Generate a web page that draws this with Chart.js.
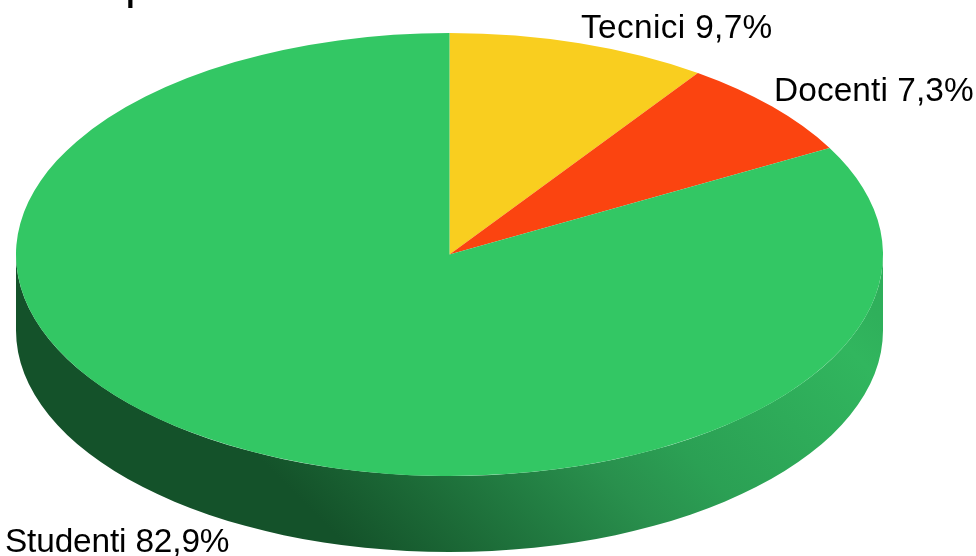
<!DOCTYPE html>
<html>
<head>
<meta charset="utf-8">
<style>
  html, body { margin: 0; padding: 0; background: #fff; overflow: hidden; }
  canvas { display: block; }
</style>
<script src="https://cdn.jsdelivr.net/npm/chart.js@4"></script>
</head>
<body>
<canvas id="myChart" width="976" height="556"></canvas>
<script>
const categories = ['Tecnici', 'Docenti', 'Studenti'];
const values = [9.7, 7.3, 82.9];
const sliceColors = ['#f9ce1f', '#fb4410', '#33c764'];
const valueLabels = ['9,7%', '7,3%', '82,9%'];
const titleText = 'p';

// where the tilted pie sits on the page
const pie = { x: 449.5, y: 254.5, rx: 433.5, ry: 221.5, depth: 76 };
const labelSpots = [[581, 37.5], [774, 100.5], [5, 552]];
const labelSpacing = ['0.35px', '0.1px', '-0.15px'];

// squash the round pie into an ellipse, and draw the side wall under it
const tiltPlugin = {
    id: 'tilt',
    beforeDatasetsDraw(chart) {
        const ctx = chart.ctx;
        const arcs = chart.getDatasetMeta(0).data;
        const r = arcs[0].outerRadius;

        // light comes from the upper right, with a bit of shade on the far edge
        const wall = ctx.createLinearGradient(100, 400, 560, -60);
        wall.addColorStop(0, '#14522a');
        wall.addColorStop(0.11, '#14522a');
        wall.addColorStop(0.25, '#1c6a37');
        wall.addColorStop(0.36, '#227d42');
        wall.addColorStop(0.47, '#29904d');
        wall.addColorStop(0.58, '#2ba054');
        wall.addColorStop(0.87, '#31b65e');
        wall.addColorStop(0.935, '#2fb05b');
        wall.addColorStop(1, '#2fae5a');

        for (let i = 0; i < arcs.length; i++) {
            // only the front half of the pie shows a wall
            const from = Math.max(arcs[i].startAngle, 0);
            const to = Math.min(arcs[i].endAngle, Math.PI);
            if (from >= to) continue;
            ctx.beginPath();
            ctx.ellipse(pie.x, pie.y, pie.rx, pie.ry, 0, from, to);
            ctx.ellipse(pie.x, pie.y + pie.depth, pie.rx, pie.ry, 0, to, from, true);
            ctx.closePath();
            ctx.fillStyle = wall;
            ctx.fill();
        }

        ctx.save();
        ctx.translate(pie.x, pie.y);
        ctx.scale(pie.rx / r, pie.ry / r);
        ctx.translate(-arcs[0].x, -arcs[0].y);
    },
    afterDatasetsDraw(chart) {
        chart.ctx.restore();
    },
    afterDraw(chart) {
        const ctx = chart.ctx;
        ctx.save();
        ctx.fillStyle = '#000';
        ctx.textAlign = 'left';
        ctx.textBaseline = 'alphabetic';
        ctx.font = '33.4px "Liberation Sans"';
        for (let i = 0; i < categories.length; i++) {
            ctx.letterSpacing = labelSpacing[i];
            ctx.fillText(categories[i] + ' ' + valueLabels[i], labelSpots[i][0], labelSpots[i][1]);
        }
        ctx.letterSpacing = '0px';
        // the title is cut off by the top edge, only the tail of the p is left
        ctx.font = '48px "Liberation Sans"';
        ctx.fillText(titleText, 125, -2);
        ctx.restore();
    }
};

const ctx = document.getElementById('myChart').getContext('2d');
const myChart = new Chart(ctx, {
    type: 'pie',
    data: {
        labels: categories,
        datasets: [{
            data: values,
            backgroundColor: sliceColors,
            borderWidth: 0,
            clip: false
        }]
    },
    options: {
        responsive: false,
        animation: false,
        plugins: {
            legend: { display: false },
            tooltip: { enabled: false }
        }
    },
    plugins: [tiltPlugin]
});
</script>
</body>
</html>
